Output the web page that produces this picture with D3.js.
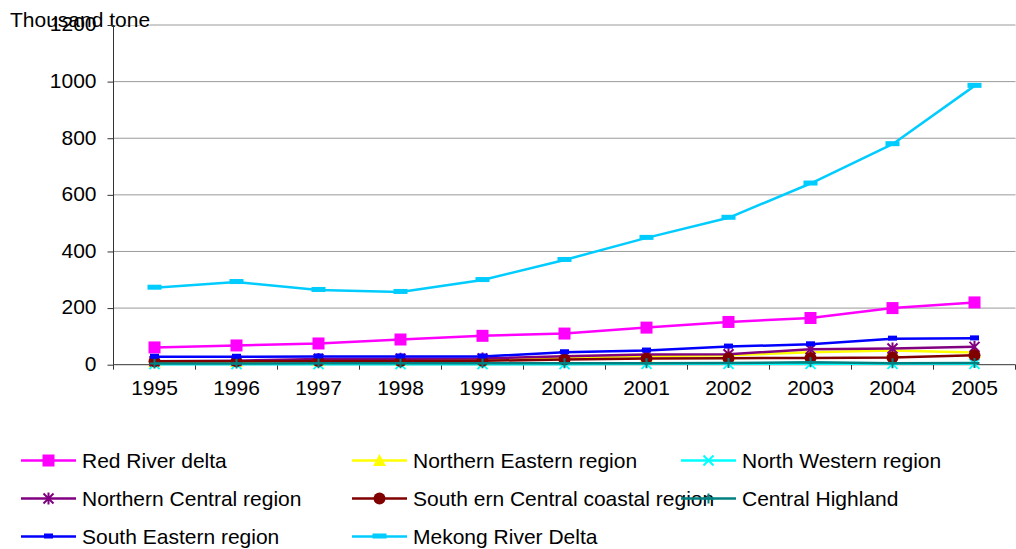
<!DOCTYPE html>
<html>
<head>
<meta charset="utf-8">
<script src="https://cdn.jsdelivr.net/npm/d3@7"></script>
<style>
  html, body { margin: 0; padding: 0; background: #fff; }
  svg { display: block; font-family: "Liberation Sans", Arial, sans-serif; }
</style>
</head>
<body>
<svg id="chart" width="1016" height="549"></svg>
<script>
// Production by region, thousand tonnes, 1995-2005
const years = ["1995","1996","1997","1998","1999","2000","2001","2002","2003","2004","2005"];
const yTicks = [0, 200, 400, 600, 800, 1000, 1200];

const redRiverDelta      = [61, 68, 75, 89, 102, 110, 131, 151, 165, 200, 220];
const northernEastern    = [10, 11, 14, 15, 17, 25, 31, 33, 44, 50, 43];
const northWestern       = [2, 2, 2, 2, 2, 2, 3, 3, 3, 3, 3];
const northernCentral    = [12, 14, 20, 21, 22, 30, 36, 37, 55, 57, 63];
const southCentralCoast  = [12, 12, 13, 13, 14, 18, 22, 23, 24, 25, 33];
const centralHighland    = [4, 4, 5, 5, 5, 5, 5, 6, 9, 5, 6];
const southEastern       = [28, 28, 29, 29, 29, 44, 50, 64, 72, 92, 93];
const mekongRiverDelta   = [272, 292, 264, 257, 299, 370, 448, 519, 640, 779, 985];

const seriesNames = ["Red River delta", "Northern Eastern region", "North Western region",
  "Northern Central region", "South ern Central coastal region", "Central Highland",
  "South Eastern region", "Mekong River Delta"];

const series = [
  { name: seriesNames[0], values: redRiverDelta,     color: "#FF00FF", marker: "square" },
  { name: seriesNames[1], values: northernEastern,   color: "#FFFF00", marker: "triangle" },
  { name: seriesNames[2], values: northWestern,      color: "#00FFFF", marker: "x" },
  { name: seriesNames[3], values: northernCentral,   color: "#800080", marker: "star" },
  { name: seriesNames[4], values: southCentralCoast, color: "#800000", marker: "circle" },
  { name: seriesNames[5], values: centralHighland,   color: "#008080", marker: "plus" },
  { name: seriesNames[6], values: southEastern,      color: "#0000FF", marker: "dash" },
  { name: seriesNames[7], values: mekongRiverDelta,  color: "#00CCFF", marker: "bar" }
];

const svg = d3.select("#chart");
const plot = { left: 113.5, right: 1015.5, top: 25, bottom: 364.7 };

const x = d3.scaleBand().domain(years).range([plot.left, plot.right]).padding(0);
const y = d3.scaleLinear().domain([0, 1200]).range([plot.bottom, plot.top]);
const cx = d => x(d) + x.bandwidth() / 2;

// horizontal gridlines
svg.append("g").selectAll("line")
  .data(yTicks.filter(t => t > 0))
  .join("line")
  .attr("x1", plot.left).attr("x2", plot.right)
  .attr("y1", d => y(d)).attr("y2", d => y(d))
  .attr("stroke", "#9a9a9a").attr("stroke-width", 1);

// y-axis unit caption (white box hides the top gridline behind it)
const title = svg.append("g");
title.append("rect").attr("x", 8).attr("y", 8).attr("width", 142).attr("height", 17).attr("fill", "#fff");
title.append("text").attr("x", 10).attr("y", 27).attr("font-size", 21).attr("fill", "#000").text("Thousand tone");

// y axis
const yAxis = svg.append("g")
  .attr("transform", `translate(${plot.left},0)`)
  .call(d3.axisLeft(y).tickValues(yTicks).tickSize(6).tickPadding(11).tickFormat(d3.format("d")));
yAxis.select(".domain").attr("stroke", "#333").attr("d", `M0,${plot.top}V${plot.bottom}`);
yAxis.selectAll(".tick line").attr("stroke", "#333");
yAxis.selectAll(".tick text").attr("font-size", 21).attr("fill", "#000").attr("font-family", "Liberation Sans, Arial, sans-serif").attr("dy", "0.28em");

// x axis: labels at category centres, tick marks on category boundaries
const xAxis = svg.append("g")
  .attr("transform", `translate(0,${plot.bottom})`)
  .call(d3.axisBottom(x).tickSize(0).tickPadding(15));
xAxis.select(".domain").attr("stroke", "#333").attr("d", `M${plot.left},0H${plot.right}`);
xAxis.selectAll(".tick text").attr("font-size", 21).attr("fill", "#000").attr("font-family", "Liberation Sans, Arial, sans-serif");
const bounds = years.map(d => x(d)).concat([x(years[years.length - 1]) + x.bandwidth()]);
xAxis.append("g").selectAll("line").data(bounds).join("line")
  .attr("x1", d => d).attr("x2", d => d).attr("y1", 0).attr("y2", 5)
  .attr("stroke", "#333");

// marker painter
function drawMarker(g, type, color, px, py) {
  switch (type) {
    case "square":
      g.append("rect").attr("x", px - 6).attr("y", py - 6).attr("width", 12).attr("height", 12).attr("fill", color);
      break;
    case "triangle":
      g.append("path").attr("d", `M${px},${py - 6.5}L${px + 6.5},${py + 5.5}L${px - 6.5},${py + 5.5}Z`).attr("fill", color);
      break;
    case "x":
      g.append("path").attr("d", `M${px - 5},${py - 5}L${px + 5},${py + 5}M${px + 5},${py - 5}L${px - 5},${py + 5}`)
        .attr("stroke", color).attr("stroke-width", 2);
      break;
    case "star":
      g.append("path").attr("d", `M${px - 5},${py - 5}L${px + 5},${py + 5}M${px + 5},${py - 5}L${px - 5},${py + 5}M${px},${py - 6}L${px},${py + 6}`)
        .attr("stroke", color).attr("stroke-width", 2);
      break;
    case "circle":
      g.append("circle").attr("cx", px).attr("cy", py).attr("r", 6).attr("fill", color);
      break;
    case "plus":
      g.append("path").attr("d", `M${px - 5},${py}L${px + 5},${py}M${px},${py - 5}L${px},${py + 5}`)
        .attr("stroke", color).attr("stroke-width", 2);
      break;
    case "dash":
      g.append("rect").attr("x", px - 4.5).attr("y", py - 3).attr("width", 9).attr("height", 5).attr("fill", color);
      break;
    case "bar":
      g.append("rect").attr("x", px - 7).attr("y", py - 3).attr("width", 14).attr("height", 5).attr("fill", color);
      break;
  }
}

const line = d3.line().x((d, i) => cx(years[i])).y(d => y(d));

series.forEach(s => {
  const g = svg.append("g");
  g.append("path").datum(s.values).attr("d", line)
    .attr("fill", "none").attr("stroke", s.color).attr("stroke-width", 2.5).attr("stroke-linejoin", "round");
  s.values.forEach((v, i) => drawMarker(g, s.marker, s.color, cx(years[i]), y(v)));
});

// legend, three columns: labels first, then samples, so a long label runs under the next sample
const legendCols = [21, 352, 681];
const legendRows = [460.5, 498.5, 536.5];
const legendText = svg.append("g");
const legendKeys = svg.append("g");
series.forEach((s, i) => {
  const lx = legendCols[i % 3], ly = legendRows[Math.floor(i / 3)];
  legendText.append("text")
    .attr("x", lx + 61).attr("y", ly).attr("dy", "0.35em")
    .attr("font-size", 21).attr("fill", "#000").text(s.name);
  const g = legendKeys.append("g");
  g.append("line").attr("x1", lx).attr("x2", lx + 55).attr("y1", ly).attr("y2", ly)
    .attr("stroke", s.color).attr("stroke-width", 2.5);
  drawMarker(g, s.marker, s.color, lx + 27.5, ly);
});
</script>
</body>
</html>
